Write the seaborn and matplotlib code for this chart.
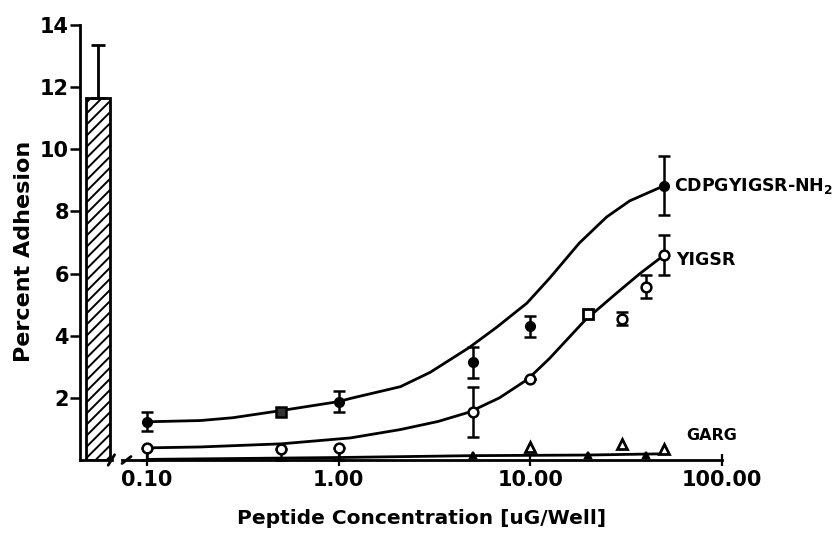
import numpy as np
import pandas as pd
import matplotlib
matplotlib.use("Agg")
import matplotlib.pyplot as plt
import seaborn as sns

# control bar (left panel)
control_value = 11.65
control_err = 1.72

# CDPGYIGSR-NH2 (filled circles)
cdpg_x = [0.1, 1.0, 5.0, 10.0, 50.0]
cdpg_y = [1.23, 1.88, 3.15, 4.3, 8.83]
cdpg_err = [0.3, 0.33, 0.5, 0.33, 0.95]
cdpg_sq_x = [0.5]
cdpg_sq_y = [1.55]
cdpg_fit_x = [0.1, 0.19, 0.28, 0.5, 1.0, 1.15, 2.1, 3.0, 4.8, 6.7, 9.6, 12.6, 18, 25, 33, 50]
cdpg_fit_y = [1.23, 1.27, 1.36, 1.59, 1.88, 1.98, 2.36, 2.82, 3.62, 4.28, 5.05, 5.85, 6.98, 7.82, 8.34, 8.83]

# YIGSR (open circles)
yigsr_x = [0.1, 0.5, 1.0, 5.0, 10.0, 30.0, 40.0, 50.0]
yigsr_y = [0.39, 0.36, 0.39, 1.55, 2.6, 4.55, 5.58, 6.6]
yigsr_err_lo = [0.4, 0.36, 0.39, 0.8, 0, 0.2, 0.37, 0.65]
yigsr_err_hi = [0, 0, 0, 0.8, 0, 0.2, 0.37, 0.65]
yigsr_sq_x = [20.0]
yigsr_sq_y = [4.7]
yigsr_fit_x = [0.1, 0.19, 0.5, 1.15, 2.1, 3.3, 4.8, 6.9, 9.7, 12.6, 19.3, 28.3, 37.3, 50]
yigsr_fit_y = [0.39, 0.42, 0.52, 0.71, 0.98, 1.24, 1.54, 2.0, 2.60, 3.27, 4.5, 5.38, 6.0, 6.6]

# GARG (triangles)
garg_x = [10.0, 30.0, 50.0]
garg_y = [0.42, 0.52, 0.37]
garg_low_x = [5.0, 20.0, 40.0]
garg_low_y = [0.15, 0.15, 0.16]
garg_fit_x = [0.1, 1.0, 5.0, 20.0, 50.0]
garg_fit_y = [0.02, 0.08, 0.14, 0.16, 0.2]

yticks = [2, 4, 6, 8, 10, 12, 14]
xticks = [0.1, 1, 10, 100]
xtick_labels = ["0.10", "1.00", "10.00", "100.00"]

sns.set_style("ticks")
plt.rcParams['font.family'] = ['DejaVu Sans']
plt.rcParams['font.weight'] = 'bold'
plt.rcParams['hatch.linewidth'] = 1.4
plt.rcParams['mathtext.default'] = 'bf'
for k in ['text.color', 'axes.labelcolor', 'xtick.color', 'ytick.color', 'axes.edgecolor']:
    plt.rcParams[k] = 'black'

W, H = 836, 538
def box(x0, y0, x1, y1):
    return [x0 / W, 1 - y1 / H, (x1 - x0) / W, (y1 - y0) / H]

fig = plt.figure(figsize=(8.36, 5.38), dpi=100)
ax_bar = fig.add_axes(box(80, 25, 112, 460))
ax = fig.add_axes(box(122, 25, 722, 460))

# left: control bar
bar_df = pd.DataFrame({'group': ['control'], 'value': [control_value]})
sns.barplot(data=bar_df, x='group', y='value', ax=ax_bar, width=0.75,
            color='white', edgecolor='black', linewidth=2, errorbar=None)
for p in ax_bar.patches:
    p.set_hatch('///')
ax_bar.errorbar([0], [control_value], yerr=[[0], [control_err]], fmt='none',
                ecolor='black', elinewidth=2, capsize=5, capthick=2)
ax_bar.set_xlim(-0.5625, 0.4375)
ax_bar.set_ylim(0, 14)
ax_bar.set_yticks(yticks)
ax_bar.set_xticks([])
ax_bar.set_xlabel('')
ax_bar.set_ylabel('')
ax_bar.tick_params(axis='y', labelsize=15, length=7, width=1.8, pad=1)
for lab in ax_bar.get_yticklabels():
    lab.set_fontweight('bold')
sns.despine(ax=ax_bar, top=True, right=True)
for s in ['left', 'bottom']:
    ax_bar.spines[s].set_linewidth(2)
ax_bar.plot([0.88, 1.08], [-0.012, 0.012], transform=ax_bar.transAxes,
            color='black', lw=2, clip_on=False)

# right: dose response curves
ax.set_xscale('log')
ax.set_xlim(10 ** (-1 - 25 / 191.7), 100)
ax.set_ylim(0, 14)
ax.patch.set_alpha(0)

sns.lineplot(x=cdpg_fit_x, y=cdpg_fit_y, ax=ax, color='black', lw=2, errorbar=None)
sns.lineplot(x=yigsr_fit_x, y=yigsr_fit_y, ax=ax, color='black', lw=2, errorbar=None)
sns.lineplot(x=garg_fit_x, y=garg_fit_y, ax=ax, color='black', lw=2, errorbar=None)

eb = dict(ecolor='black', elinewidth=1.8, capsize=4, capthick=1.8, clip_on=False, zorder=4)
ax.errorbar(cdpg_x, cdpg_y, yerr=cdpg_err, fmt='o', ms=7, mfc='black', mec='black', **eb)
ax.plot(cdpg_sq_x, cdpg_sq_y, 's', ms=6.5, mfc='#333333', mec='black', mew=1.8, zorder=5)
ax.errorbar(yigsr_x, yigsr_y, yerr=[yigsr_err_lo, yigsr_err_hi], fmt='o', ms=7,
            mfc='white', mec='black', mew=1.8, **eb)
ax.plot(yigsr_sq_x, yigsr_sq_y, 's', ms=6.5, mfc='white', mec='black', mew=2, zorder=5)
ax.plot(garg_x, garg_y, '^', ms=6.5, mfc='white', mec='black', mew=2, zorder=5, clip_on=False)
ax.plot(garg_low_x, garg_low_y, '^', ms=4.5, mfc='black', mec='black', mew=1.5, zorder=5, clip_on=False)

ax.text(56, 8.83, r'CDPGYIGSR-NH$_2$', fontsize=12.5, fontweight='bold', va='center', ha='left')
ax.text(58, 6.45, 'YIGSR', fontsize=12.5, fontweight='bold', va='center', ha='left')
ax.text(65, 0.78, 'GARG', fontsize=11.5, fontweight='bold', va='center', ha='left')

ax.set_xticks(xticks)
ax.set_xticklabels(xtick_labels)
ax.minorticks_off()
ax.set_yticks([])
ax.tick_params(axis='x', direction='inout', length=9, width=1.6, labelsize=15, pad=3)
for lab in ax.get_xticklabels():
    lab.set_fontweight('bold')
sns.despine(ax=ax, left=True, top=True, right=True)
ax.spines['bottom'].set_linewidth(2)
ax.plot([0.0, 0.015], [-0.008, 0.008], transform=ax.transAxes,
        color='black', lw=2, clip_on=False)

fig.text(422 / W, 1 - 518 / H, 'Peptide Concentration [uG/Well]', fontsize=14.5,
         fontweight='bold', ha='center', va='center')
fig.text(24 / W, 1 - 251 / H, 'Percent Adhesion', rotation=90, fontsize=16,
         fontweight='bold', ha='center', va='center')

fig.savefig('out.png', dpi=100)
